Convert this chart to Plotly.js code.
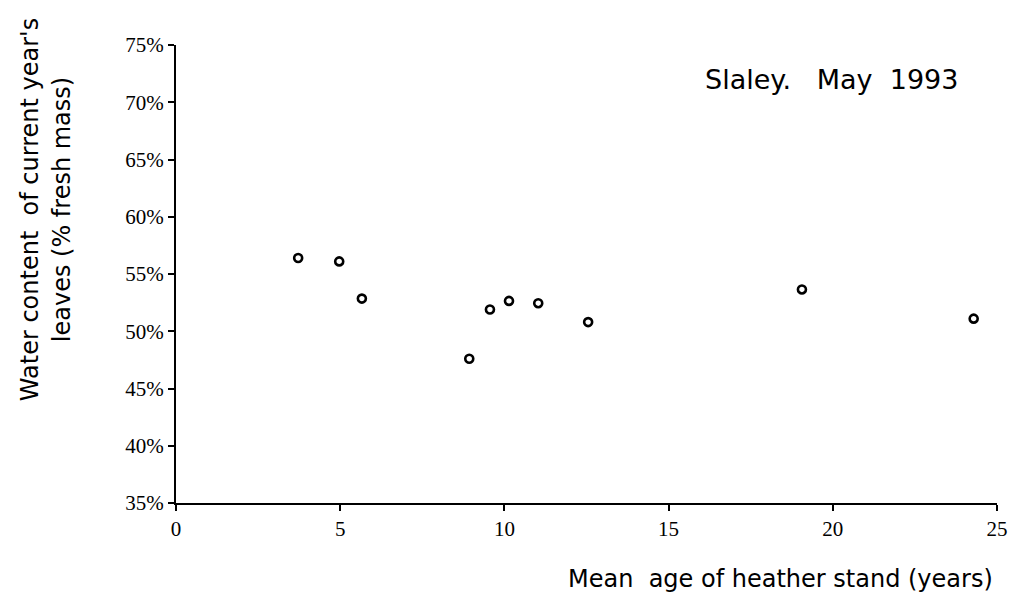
<!DOCTYPE html>
<html>
<head>
<meta charset="utf-8">
<script src="https://cdn.plot.ly/plotly-3.0.1.min.js"></script>
<style>html,body{margin:0;padding:0;background:#fff;}#chart{width:1010px;height:600px;}</style>
</head>
<body>
<div id="chart"></div>
<script>
// Mean age of heather stand (years)
var standAge = [3.72, 4.97, 5.66, 8.93, 9.56, 10.14, 11.03, 12.55, 19.06, 24.29];
// Water content of current year's leaves (% fresh mass)
var waterContent = [56.4, 56.1, 52.85, 47.6, 51.9, 52.65, 52.45, 50.8, 53.65, 51.1];
var xTickVals = [0, 5, 10, 15, 20, 25];
var yTickVals = [35, 40, 45, 50, 55, 60, 65, 70, 75];
var chartLabel = "Slaley.&nbsp;&nbsp; May&nbsp; 1993";
var xTitle = "Mean&nbsp; age of heather stand (years)";
var yTitle = "Water content&nbsp; of current year's<br>leaves (% fresh mass)";

var trace = {
  x: standAge,
  y: waterContent,
  type: 'scatter',
  mode: 'markers',
  marker: {symbol: 'circle-open', size: 8, color: '#000', line: {width: 2.6, color: '#000'}},
  hoverinfo: 'x+y'
};

var layout = {
  width: 1010, height: 600,
  margin: {l: 176, r: 13, t: 45, b: 97},
  paper_bgcolor: '#fff', plot_bgcolor: '#fff',
  showlegend: false,
  xaxis: {
    range: [0, 25], tickvals: xTickVals, ticktext: xTickVals.map(String),
    showgrid: false, zeroline: false, showline: true, linecolor: '#000', linewidth: 2,
    ticks: 'outside', ticklen: 6, tickwidth: 2, tickcolor: '#000',
    tickfont: {family: 'Liberation Serif, serif', size: 21, color: '#000'},
    fixedrange: true
  },
  yaxis: {
    range: [35, 75], tickvals: yTickVals, ticktext: yTickVals.map(function(v){return v + '%';}),
    showgrid: false, zeroline: false, showline: true, linecolor: '#000', linewidth: 2,
    ticks: 'outside', ticklen: 6, tickwidth: 2, tickcolor: '#000',
    tickfont: {family: 'Liberation Serif, serif', size: 21, color: '#000'},
    fixedrange: true
  },
  annotations: [
    {text: chartLabel, xref: 'paper', yref: 'paper', x: 0.955, y: 0.924, xanchor: 'right', yanchor: 'middle',
     showarrow: false, font: {family: 'DejaVu Sans, sans-serif', size: 27, color: '#000'}},
    {text: xTitle, xref: 'paper', yref: 'paper', x: 0.736, y: -0.165, xanchor: 'center', yanchor: 'middle',
     showarrow: false, font: {family: 'DejaVu Sans, sans-serif', size: 24, color: '#000'}},
    {text: yTitle, xref: 'paper', yref: 'paper', x: -0.158, y: 0.64, xanchor: 'center', yanchor: 'middle',
     textangle: -90, showarrow: false, font: {family: 'DejaVu Sans, sans-serif', size: 24, color: '#000'}}
  ]
};

Plotly.newPlot('chart', [trace], layout, {displayModeBar: false, staticPlot: true});
</script>
</body>
</html>
